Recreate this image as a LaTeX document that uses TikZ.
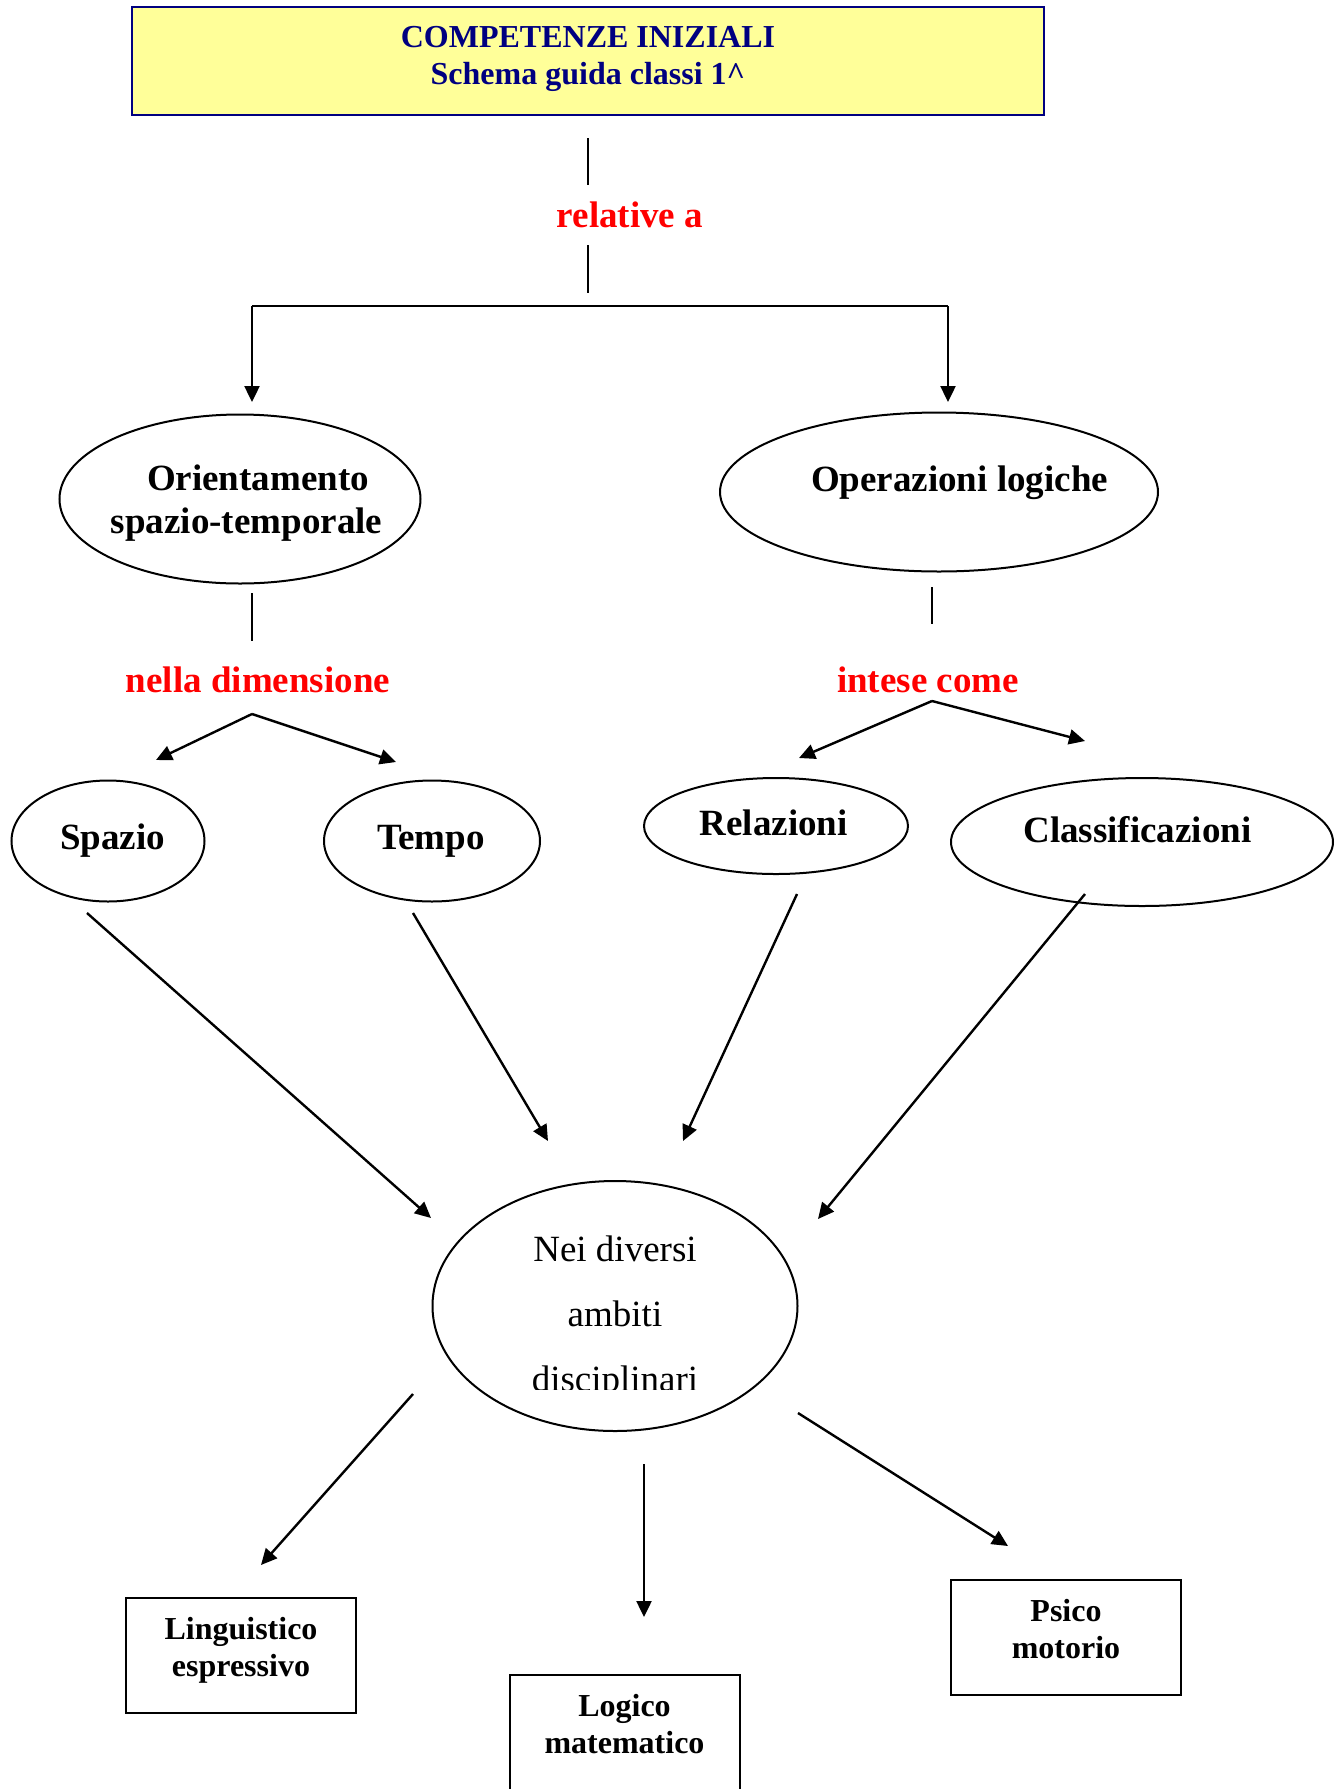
\documentclass[tikz,border=0pt]{standalone}
\usepackage{fontspec}
\setmainfont{Liberation Serif}
\usetikzlibrary{shapes.geometric, arrows.meta}
\definecolor{navy}{RGB}{0,0,128}
\definecolor{paleyellow}{RGB}{255,255,153}
\tikzstyle{arrow} = [line width=1.2pt,-{Triangle[width=7.5pt,length=8pt]}]
\tikzstyle{link} = [line width=1.2pt]
\tikzstyle{oval} = [ellipse, draw, line width=1pt, inner sep=0pt]
\tikzstyle{ovaltext} = [align=center, inner sep=0pt, font=\fontsize{18.5}{21.5}\selectfont\bfseries]
\tikzstyle{box} = [rectangle, draw, line width=1pt, minimum width=115pt, minimum height=57.5pt]
\tikzstyle{boxtext} = [align=center, inner sep=0pt, font=\fontsize{16}{18.5}\selectfont\bfseries]
\tikzstyle{redtext} = [text=red, inner sep=0pt, font=\fontsize{18.5}{22}\selectfont\bfseries]

\begin{document}
\begin{tikzpicture}[x=0.5pt,y=-0.5pt]
  \useasboundingbox (0,0) rectangle (1341,1789);

  \node[rectangle, draw=navy, fill=paleyellow, line width=1pt, minimum width=456pt, minimum height=54pt] (titolo) at (588,61) {};
  \node[boxtext, text=navy, font=\fontsize{16}{18.75}\selectfont\bfseries] (titolotxt) at (588,58.7) {COMPETENZE INIZIALI\\Schema guida classi 1\textasciicircum};
  \node[redtext] (relative) at (630,215) {relative a};

  \node[oval, minimum width=180.5pt, minimum height=84.5pt] (orient) at (240,499) {};
  \node[ovaltext] (orienttxt) at (246.6,503.5) {\hspace*{11.4pt}Orientamento\\spazio-temporale};
  \node[oval, minimum width=219pt, minimum height=79.5pt] (operaz) at (939,492) {};
  \node[ovaltext] (operaztxt) at (959.5,483) {Operazioni logiche};
  \node[redtext] (dimensione) at (258,680) {nella dimensione};
  \node[redtext] (intese) at (928,680) {intese come};

  \node[oval, minimum width=96.5pt, minimum height=60.5pt] (spazio) at (108,841) {};
  \node[ovaltext] (spaziotxt) at (112.5,841) {Spazio};
  \node[oval, minimum width=108pt, minimum height=60.5pt] (tempo) at (432,841) {};
  \node[ovaltext] (tempotxt) at (431,841) {Tempo};
  \node[oval, minimum width=132pt, minimum height=48pt] (relaz) at (776,826) {};
  \node[ovaltext] (relaztxt) at (773.7,822.6) {Relazioni};
  \node[oval, minimum width=191pt, minimum height=64pt] (classif) at (1142,842) {};
  \node[ovaltext] (classiftxt) at (1137.4,829.5) {Classificazioni};

  \node[oval, minimum width=182.5pt, minimum height=125pt] (ambiti) at (615,1306) {};
  \begin{scope}
    \clip (433,1181) rectangle (798,1389);
    \node[align=center, inner sep=0pt, font=\fontsize{18.5}{32.5}\selectfont] (ambtxt) at (615,1318) {Nei diversi\\ambiti\\disciplinari};
  \end{scope}

  \node[box] (lingu) at (241,1655) {};
  \node[boxtext] (lingutxt) at (241,1650.5) {Linguistico\\espressivo};
  \node[box] (logico) at (624.5,1732) {};
  \node[boxtext] (logicotxt) at (624.5,1724) {Logico\\matematico};
  \node[box] (psico) at (1066,1637) {};
  \node[boxtext] (psicotxt) at (1066,1629) {Psico\\motorio};

  \coordinate (t1) at (588,138);
  \coordinate (t2) at (588,185);
  \coordinate (t3) at (588,245);
  \coordinate (t4) at (588,293);
  \coordinate (hl) at (252,306);
  \coordinate (hr) at (948,306);
  \coordinate (al) at (252,402);
  \coordinate (ar) at (948,402);
  \draw[link] (t1) -- (t2);
  \draw[link] (t3) -- (t4);
  \draw[link] (hl) -- (hr);
  \draw[arrow] (hl) -- (al);
  \draw[arrow] (hr) -- (ar);

  \coordinate (o1) at (252,593);
  \coordinate (o2) at (252,641);
  \coordinate (p1) at (932,587);
  \coordinate (p2) at (932,624);
  \draw[link] (o1) -- (o2);
  \draw[link] (p1) -- (p2);

  \coordinate (dapex) at (252,714);
  \coordinate (dl) at (156,760);
  \coordinate (dr) at (396,762);
  \coordinate (iapex) at (932,701);
  \coordinate (il) at (799,758);
  \coordinate (ir) at (1085,741);
  \draw[arrow] (dapex) -- (dl);
  \draw[arrow] (dapex) -- (dr);
  \draw[arrow] (iapex) -- (il);
  \draw[arrow] (iapex) -- (ir);

  \coordinate (s1) at (87,913);
  \coordinate (s2) at (431,1218);
  \coordinate (m1) at (413,913);
  \coordinate (m2) at (548,1141);
  \coordinate (r1) at (797,894);
  \coordinate (r2) at (683,1141);
  \coordinate (c1) at (1085,894);
  \coordinate (c2) at (818,1219);
  \draw[arrow] (s1) -- (s2);
  \draw[arrow] (m1) -- (m2);
  \draw[arrow] (r1) -- (r2);
  \draw[arrow] (c1) -- (c2);

  \coordinate (b1) at (413,1394);
  \coordinate (b2) at (261,1565);
  \coordinate (b3) at (644,1464);
  \coordinate (b4) at (644,1617);
  \coordinate (b5) at (798,1413);
  \coordinate (b6) at (1008,1546);
  \draw[arrow] (b1) -- (b2);
  \draw[arrow] (b3) -- (b4);
  \draw[arrow] (b5) -- (b6);
\end{tikzpicture}
\end{document}
